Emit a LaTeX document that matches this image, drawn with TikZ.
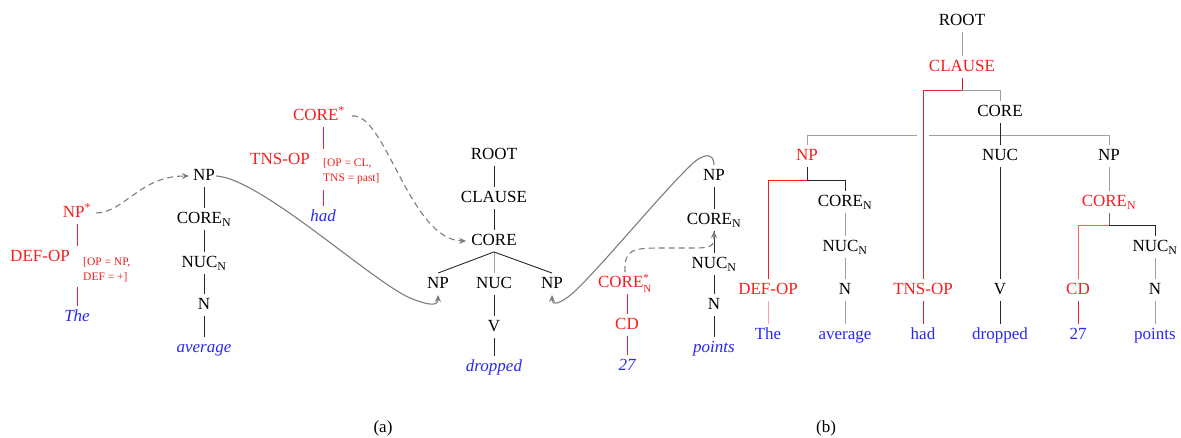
\documentclass[tikz,border=0pt]{standalone}
\usepackage{fontspec}
\setmainfont{Liberation Serif}
\usetikzlibrary{arrows.meta}
\definecolor{tred}{RGB}{245,30,30}
\definecolor{tblue}{RGB}{40,40,245}
\definecolor{lgray}{RGB}{160,160,160}
\definecolor{agray}{RGB}{125,125,125}
\definecolor{dline}{RGB}{40,40,40}
\definecolor{pinkl}{RGB}{250,165,165}
\newcommand{\smallmark}[1]{\mbox{\fontsize{11}{11}\selectfont #1}}
\begin{document}
\begin{tikzpicture}[x=1pt,y=-1pt,
  lab/.style={font=\fontsize{17}{20}\selectfont, text height=11.5pt, text depth=2pt, inner xsep=1pt, inner ysep=4pt},
  rlab/.style={lab, text=tred},
  wordi/.style={lab, text=tblue, font=\fontsize{17}{20}\selectfont\itshape},
  wordb/.style={lab, text=tblue},
  ann/.style={font=\fontsize{11.5}{15}\selectfont, text=tred, align=left, inner sep=0pt, anchor=west},
  edge/.style={draw=dline, line width=0.9pt},
  redge/.style={draw=tred, line width=0.9pt},
  gedge/.style={draw=lgray, line width=0.9pt},
  pedge/.style={draw=pinkl, line width=0.9pt},
  dashlink/.style={draw=agray, line width=1.1pt, dash pattern=on 6pt off 4pt, -{Stealth[length=7pt,width=6pt]}},
  solidlink/.style={draw=agray, line width=1.1pt, -{Stealth[length=7pt,width=6pt]}},
  caption/.style={font=\fontsize{17}{20}\selectfont}
]
\useasboundingbox (0,0) rectangle (1181,438);

% ---------- (a) ----------
\node[rlab] (npstar) at (77,213) {NP\textsuperscript{*}};
\node[rlab] (defop) at (40,257) {DEF-OP};
\node[ann] (ann1) at (83,270) {[OP = NP,\\DEF = +]};
\node[wordi] (the) at (77,317) {The};
\coordinate (a1) at (77,246);
\coordinate (a2) at (77,287);
\draw[redge] (npstar.south) -- (a1);
\draw[redge] (a2) -- (the.north);

\node[lab] (np1) at (204,176) {NP};
\node[lab] (coren1) at (204,219) {CORE\textsubscript{N}};
\node[lab] (nucn1) at (204,263) {NUC\textsubscript{N}};
\node[lab] (n1) at (204,305) {N};
\node[wordi] (average) at (204,348) {average};
\draw[edge] (np1.south) -- (coren1.north);
\draw[edge] (coren1.south) -- (nucn1.north);
\draw[edge] (nucn1.south) -- (n1.north);
\draw[edge] (n1.south) -- (average.north);

\node[rlab] (corestar) at (319,116) {CORE\textsuperscript{*}};
\node[rlab] (tnsop) at (280,160) {TNS-OP};
\node[ann] (ann2) at (323,171) {[OP = CL,\\TNS = past]};
\node[wordi] (had) at (323,217) {had};
\coordinate (t1) at (323,149);
\coordinate (t2) at (323,190);
\draw[redge] (corestar.south -| had.north) -- (t1);
\draw[redge] (t2) -- (had.north);

\node[lab] (root) at (494,155) {ROOT};
\node[lab] (clause) at (494,198) {CLAUSE};
\node[lab] (core) at (494,241) {CORE};
\node[lab] (npa) at (438,284) {NP};
\node[lab] (nuc) at (494,284) {NUC};
\node[lab] (npb) at (552,284) {NP};
\node[lab] (v) at (494,327) {V};
\node[wordi] (dropped) at (494,367) {dropped};
\draw[edge] (root.south) -- (clause.north);
\draw[edge] (clause.south) -- (core.north);
\draw[edge] (core.south) -- (npa.north);
\draw[gedge] (core.south) -- (nuc.north);
\draw[edge] (core.south) -- (npb.north);
\draw[edge] (nuc.south) -- (v.north);
\draw[edge] (v.south) -- (dropped.north);

\node[rlab] (corestarn) at (625,283) {CORE$^{\smallmark{*}}_{\smallmark{N}}$};
\node[rlab] (cd) at (627,325) {CD};
\node[wordi] (n27) at (627,366) {27};
\draw[redge] (corestarn.south -| cd.north) -- (cd.north);
\draw[redge] (cd.south) -- (n27.north);

\node[lab] (np2) at (714,176) {NP};
\node[lab] (coren2) at (714,220) {CORE\textsubscript{N}};
\node[lab] (nucn2) at (714,264) {NUC\textsubscript{N}};
\node[lab] (n2) at (714,305) {N};
\node[wordi] (points) at (714,348) {points};
\draw[edge] (np2.south) -- (coren2.north);
\draw[edge] (coren2.south) -- (nucn2.north);
\draw[edge] (nucn2.south) -- (n2.north);
\draw[edge] (n2.south) -- (points.north);

% links
\draw[dashlink] ([xshift=4pt]npstar.east) .. controls (125,212) and (140,176) .. ([xshift=-3pt]np1.west);
\draw[dashlink] ([xshift=6pt]corestar.east) .. controls (385,112) and (410,240) .. ([xshift=-4pt]core.west);
\draw[dashlink] (corestarn.north) .. controls (624,250) and (632,248) .. (660,248) -- (695,248) .. controls (712,248) and (714,246) .. (coren2.south);
\draw[solidlink] (np1.east) .. controls (260,178) and (370,280) .. (410,298) .. controls (430,306) and (438,306) .. (npa.south);
\draw[solidlink] (np2.north) .. controls (714,153) and (704,152) .. (690,166) .. controls (660,195) and (600,268) .. (573,293) .. controls (560,304) and (552,306) .. (npb.south);

\node[caption] (capa) at (383,428) {(a)};

% ---------- (b) ----------
\node[lab] (rootb) at (962,21) {ROOT};
\node[rlab] (clauseb) at (962,67) {CLAUSE};
\node[lab] (coreb) at (1000,112) {CORE};
\node[rlab] (npr) at (807,156) {NP};
\node[lab] (nucb) at (1000,156) {NUC};
\node[lab] (npb2) at (1109,156) {NP};
\node[lab] (corenb1) at (845,202) {CORE\textsubscript{N}};
\node[lab] (nucnb1) at (845,247) {NUC\textsubscript{N}};
\node[lab] (nb1) at (845,290) {N};
\node[wordb] (averageb) at (845,335) {average};
\node[rlab] (defopb) at (768,290) {DEF-OP};
\node[wordb] (theb) at (768,335) {The};
\node[rlab] (tnsopb) at (923,290) {TNS-OP};
\node[wordb] (hadb) at (923,335) {had};
\node[lab] (vb) at (1000,290) {V};
\node[wordb] (droppedb) at (1000,335) {dropped};
\node[rlab] (corenb2) at (1109,202) {CORE\textsubscript{N}};
\node[rlab] (cdb) at (1078,290) {CD};
\node[wordb] (n27b) at (1078,335) {27};
\node[lab] (nucnb2) at (1155,247) {NUC\textsubscript{N}};
\node[lab] (nb2) at (1155,290) {N};
\node[wordb] (pointsb) at (1155,335) {points};

\coordinate (bc) at (962,90);
\coordinate (bk) at (1000,135);
\coordinate (gapl) at (917,135);
\coordinate (gapr) at (929,135);
\coordinate (bn) at (807,180);
\coordinate (bq) at (1109,225);

\draw[gedge] (rootb.south) -- (clauseb.north);
\draw[draw=tred!70!dline, line width=0.9pt] (clauseb.south) -- (bc);
\draw[gedge] (bc) -| (coreb.north);
\draw[gedge] (npr.north) |- (gapl);
\draw[gedge] (gapr) -| (npb2.north);
\draw[redge] (bc) -| (tnsopb.north);
\draw[edge] (coreb.south) -- (bk) -- (nucb.north);
\draw[edge] (npr.south) -- (bn);
\draw[redge] (bn) -| (defopb.north);
\draw[edge] (bn) -| (corenb1.north);
\draw[edge] (nucb.south) -- (vb.north);
\draw[gedge] (npb2.south) -- (corenb2.north);
\draw[draw=dline!70, line width=0.9pt] (corenb2.south) -- (bq);
\draw[draw=tred!70, line width=0.9pt] (bq) -| (cdb.north);
\draw[edge] (bq) -| (nucnb2.north);

\draw[gedge] (corenb1.south) -- (nucnb1.north);
\draw[gedge] (nucnb1.south) -- (nb1.north);
\draw[gedge] (nb1.south) -- (averageb.north);
\draw[pedge] (defopb.south) -- (theb.north);
\draw[redge] (tnsopb.south) -- (hadb.north);
\draw[edge] (vb.south) -- (droppedb.north);
\draw[redge] (cdb.south) -- (n27b.north);
\draw[gedge] (nucnb2.south) -- (nb2.north);
\draw[gedge] (nb2.south) -- (pointsb.north);

\node[caption] (capb) at (826,428) {(b)};
\end{tikzpicture}
\end{document}
